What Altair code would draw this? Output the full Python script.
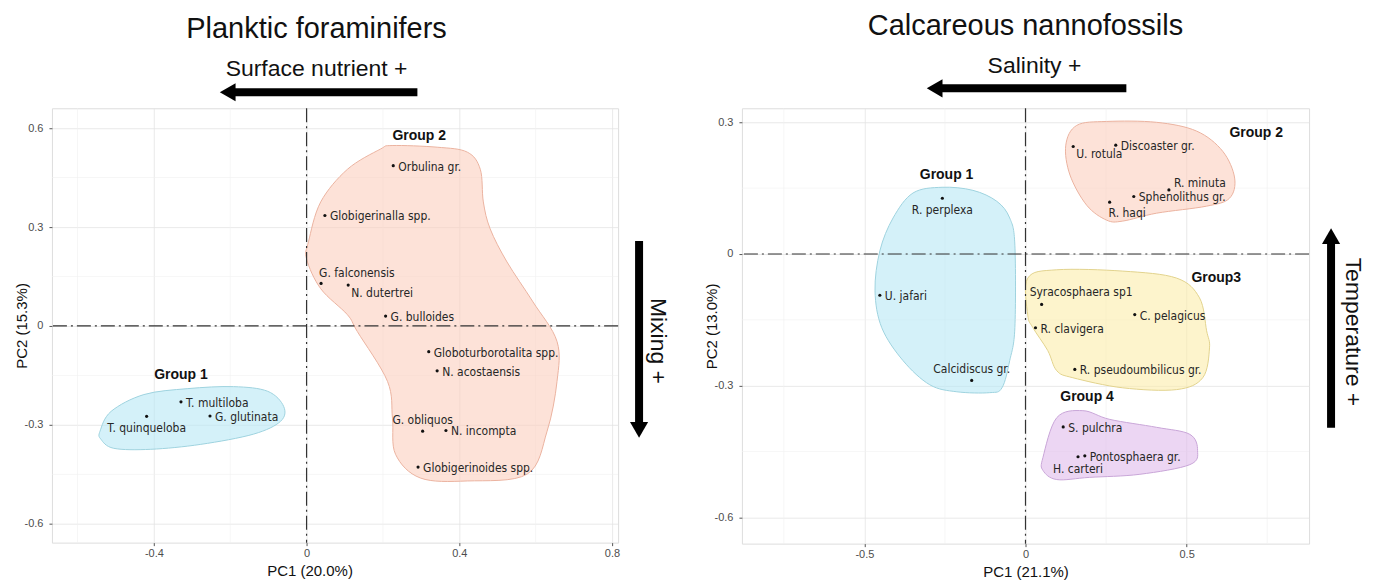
import altair as alt
import pandas as pd

# ---------------- Planktic foraminifers (left panel) ----------------
pf_names = ["Orbulina gr.", "Globigerinalla spp.", "G. falconensis", "N. dutertrei",
            "G. bulloides", "Globoturborotalita spp.", "N. acostaensis", "G. obliquos",
            "N. incompta", "Globigerinoides spp.", "T. multiloba", "G. glutinata",
            "T. quinqueloba"]
pf_pc1 = [0.227, 0.048, 0.038, 0.109, 0.207, 0.320, 0.342, 0.304, 0.365, 0.292,
          -0.329, -0.253, -0.419]
pf_pc2 = [0.486, 0.335, 0.129, 0.124, 0.030, -0.078, -0.136, -0.319, -0.317, -0.428,
          -0.230, -0.273, -0.274]
pf_side = ["r", "r", "al", "rb", "r", "r", "r", "a", "r", "r", "r", "r", "b"]

pf_group_names = ["Group 1", "Group 2"]
pf_group_pc1 = [-0.329, 0.295]
pf_group_pc2 = [-0.148, 0.575]

pf_hull1_pc1 = [-0.541, -0.512, -0.426, -0.311, -0.191, -0.102, -0.060, -0.068, -0.139,
                -0.277, -0.408, -0.505, -0.539]
pf_hull1_pc2 = [-0.319, -0.259, -0.208, -0.190, -0.184, -0.198, -0.244, -0.289, -0.328,
                -0.359, -0.374, -0.371, -0.343]
pf_hull2_pc1 = [0.224, 0.342, 0.421, 0.455, 0.463, 0.481, 0.525, 0.593, 0.656, 0.656,
                0.630, 0.578, 0.421, 0.298, 0.233, 0.225, 0.212, 0.133, 0.107, 0.037,
                0.000, 0.005, 0.037, 0.107, 0.193]
pf_hull2_pc2 = [0.547, 0.542, 0.527, 0.475, 0.376, 0.294, 0.194, 0.073, -0.047, -0.168,
                -0.319, -0.449, -0.470, -0.461, -0.389, -0.280, -0.168, -0.017, 0.034,
                0.113, 0.203, 0.255, 0.376, 0.475, 0.536]

pf_x_ticks = [-0.4, 0, 0.4, 0.8]
pf_x_minor = [-0.6, -0.2, 0.2, 0.6]
pf_y_ticks = [-0.6, -0.3, 0, 0.3, 0.6]
pf_y_minor = [-0.45, -0.15, 0.15, 0.45]

# ---------------- Calcareous nannofossils (right panel) ----------------
cn_names = ["R. perplexa", "U. jafari", "Calcidiscus gr.", "U. rotula", "Discoaster gr.",
            "R. minuta", "Sphenolithus gr.", "R. haqi", "Syracosphaera sp1", "C. pelagicus",
            "R. clavigera", "R. pseudoumbilicus gr.", "S. pulchra", "Pontosphaera gr.",
            "H. carteri"]
cn_pc1 = [-0.258, -0.452, -0.167, 0.148, 0.280, 0.445, 0.336, 0.261, 0.050, 0.339,
          0.031, 0.153, 0.117, 0.184, 0.163]
cn_pc2 = [0.127, -0.094, -0.288, 0.245, 0.248, 0.146, 0.131, 0.118, -0.115, -0.138,
          -0.168, -0.263, -0.394, -0.460, -0.462]
cn_side = ["b", "r", "a", "rb", "r", "ra", "r", "br", "all", "r", "r", "r", "r", "r", "b"]

cn_group_names = ["Group 1", "Group 2", "Group3", "Group 4"]
cn_group_pc1 = [-0.245, 0.716, 0.592, 0.191]
cn_group_pc2 = [0.180, 0.275, -0.055, -0.327]

cn_hull1_pc1 = [-0.259, -0.163, -0.089, -0.049, -0.033, -0.033, -0.049, -0.073, -0.111,
                -0.213, -0.297, -0.380, -0.446, -0.467, -0.452, -0.411, -0.349]
cn_hull1_pc2 = [0.152, 0.145, 0.120, 0.082, 0.020, -0.168, -0.243, -0.305, -0.316,
                -0.314, -0.298, -0.243, -0.168, -0.084, 0.007, 0.082, 0.139]
cn_hull2_pc1 = [0.159, 0.252, 0.407, 0.531, 0.612, 0.649, 0.633, 0.562, 0.407, 0.302,
                0.252, 0.190, 0.138, 0.125]
cn_hull2_pc2 = [0.293, 0.302, 0.300, 0.280, 0.234, 0.173, 0.127, 0.109, 0.093, 0.075,
                0.077, 0.111, 0.180, 0.248]
cn_hull3_pc1 = [0.007, 0.097, 0.302, 0.469, 0.540, 0.562, 0.571, 0.550, 0.469, 0.302,
                0.147, 0.097, 0.069, 0.023, 0.007]
cn_hull3_pc2 = [-0.055, -0.036, -0.039, -0.055, -0.100, -0.175, -0.214, -0.282, -0.309,
                -0.305, -0.282, -0.266, -0.220, -0.168, -0.139]
cn_hull4_pc1 = [0.097, 0.178, 0.262, 0.407, 0.510, 0.534, 0.510, 0.355, 0.199, 0.097,
                0.054, 0.054]
cn_hull4_pc2 = [-0.373, -0.357, -0.377, -0.395, -0.411, -0.448, -0.480, -0.502, -0.509,
                -0.514, -0.493, -0.464]

cn_x_ticks = [-0.5, 0, 0.5]
cn_x_minor = [-0.75, -0.25, 0.25, 0.75]
cn_y_ticks = [-0.6, -0.3, 0, 0.3]
cn_y_minor = [-0.45, -0.15, 0.15]

# ---------------- styling ----------------
FONT = "Liberation Sans"
LABEL_FONT = "Liberation Sans Narrow, DejaVu Sans Condensed, Liberation Sans"
BLUE = ("#b7e8f5", "#9fd3df")
PINK = ("#fccfbe", "#ebb3a0")
YELLOW = ("#fcecaa", "#e2d38e")
PURPLE = ("#dfbbeb", "#c9a6d8")

SIDES = {
    "r": dict(align="left", dx=5, dy=1),
    "rb": dict(align="left", dx=3, dy=8),
    "ra": dict(align="left", dx=5, dy=-7),
    "a": dict(align="center", dx=0, dy=-11),
    "b": dict(align="center", dx=0, dy=12),
    "al": dict(align="left", dx=-2, dy=-10),
    "all": dict(align="left", dx=-12, dy=-12),
    "br": dict(align="left", dx=-1, dy=11),
}

ONE = pd.DataFrame({"k": [0]})


def panel(names, pc1, pc2, side, gnames, gpc1, gpc2, hulls, xdom, ydom,
          xt, xm, yt, ym, xtitle, ytitle, w, h, annot, title_x=None):
    ax_common = dict(grid=True, gridColor="#e3e3e3", gridWidth=0.8, tickSize=3,
                     tickColor="#555", domain=False, labelFontSize=11,
                     labelColor="#4d4d4d", labelFont=FONT, titleFont=FONT,
                     titleFontSize=15, titleFontWeight="normal", titleColor="#111",
                     labelExpr="datum.value == 0 ? '0' : '' + datum.value")
    xaxis = dict(ax_common, values=xt, title=xtitle, labelPadding=2, titlePadding=5)
    if title_x is not None:
        xaxis["titleX"] = title_x
    X = alt.X("pc1:Q", scale=alt.Scale(domain=xdom, nice=False, zero=False),
              axis=alt.Axis(**xaxis))
    Y = alt.Y("pc2:Q", scale=alt.Scale(domain=ydom, nice=False, zero=False),
              axis=alt.Axis(values=yt, title=ytitle, labelPadding=6, titlePadding=-5,
                            **ax_common))
    layers = []
    layers.append(alt.Chart(pd.DataFrame({"pc1": xm})).mark_rule(
        color="#f0f0f0", strokeWidth=0.6).encode(x=X))
    layers.append(alt.Chart(pd.DataFrame({"pc2": ym})).mark_rule(
        color="#f0f0f0", strokeWidth=0.6).encode(y=Y))
    for hx, hy, (fill, stroke) in hulls:
        df = pd.DataFrame({"pc1": hx, "pc2": hy, "k": list(range(len(hx)))})
        layers.append(alt.Chart(df).mark_line(
            interpolate="cardinal-closed", fill=fill, fillOpacity=0.6, stroke=stroke,
            strokeWidth=1).encode(x=X, y=Y, order="k:Q"))
    layers.append(alt.Chart(pd.DataFrame({"pc1": [0]})).mark_rule(
        color="#333", strokeWidth=1.2, strokeDash=[14, 4, 2, 4]).encode(x=X))
    layers.append(alt.Chart(pd.DataFrame({"pc2": [0]})).mark_rule(
        color="#333", strokeWidth=1.2, strokeDash=[14, 4, 2, 4]).encode(y=Y))
    pts = pd.DataFrame({"pc1": pc1, "pc2": pc2, "name": names, "side": side})
    layers.append(alt.Chart(pts).mark_circle(size=10, color="#111", opacity=1)
                  .encode(x=X, y=Y))
    for key, st in SIDES.items():
        sub = pts[pts["side"] == key]
        if len(sub) == 0:
            continue
        layers.append(alt.Chart(sub).mark_text(
            baseline="middle", font=LABEL_FONT, fontSize=12, color="#262626", **st)
            .encode(x=X, y=Y, text="name:N"))
    gdf = pd.DataFrame({"pc1": gpc1, "pc2": gpc2, "name": gnames})
    layers.append(alt.Chart(gdf).mark_text(
        font=FONT, fontSize=14, fontWeight="bold", color="#111", baseline="middle")
        .encode(x=X, y=Y, text="name:N"))
    # annotations outside the plot: title, arrow texts, arrows
    (title, tx, ty), (htext, hx_, hy_), (hx0, hx1, hyy), (vtext, vx_, vy_), \
        (vx, vy0, vy1, vdir) = annot
    layers.append(alt.Chart(ONE).mark_text(
        font=FONT, fontSize=29, color="#111", align="center", baseline="alphabetic")
        .encode(x=alt.value(tx), y=alt.value(ty), text=alt.value(title)))
    layers.append(alt.Chart(ONE).mark_text(
        font=FONT, fontSize=23, color="#111", align="center", baseline="alphabetic")
        .encode(x=alt.value(hx_), y=alt.value(hy_), text=alt.value(htext)))
    layers.append(alt.Chart(ONE).mark_rule(color="black", strokeWidth=8, strokeCap="butt")
                  .encode(x=alt.value(hx0 + 4), x2=alt.value(hx1), y=alt.value(hyy)))
    layers.append(alt.Chart(ONE).mark_point(shape="triangle-left", filled=True, size=330,
                                            color="black", opacity=1)
                  .encode(x=alt.value(hx0), y=alt.value(hyy)))
    layers.append(alt.Chart(ONE).mark_text(
        font=FONT, fontSize=23, color="#111", align="center", baseline="middle", angle=90)
        .encode(x=alt.value(vx_), y=alt.value(vy_), text=alt.value(vtext)))
    if vdir == "down":
        layers.append(alt.Chart(ONE).mark_rule(color="black", strokeWidth=8, strokeCap="butt")
                      .encode(x=alt.value(vx), y=alt.value(vy0), y2=alt.value(vy1 - 4)))
        layers.append(alt.Chart(ONE).mark_point(shape="triangle-down", filled=True, size=330,
                                                color="black", opacity=1)
                      .encode(x=alt.value(vx), y=alt.value(vy1)))
    else:
        layers.append(alt.Chart(ONE).mark_rule(color="black", strokeWidth=8, strokeCap="butt")
                      .encode(x=alt.value(vx), y=alt.value(vy0 + 4), y2=alt.value(vy1)))
        layers.append(alt.Chart(ONE).mark_point(shape="triangle-up", filled=True, size=330,
                                                color="black", opacity=1)
                      .encode(x=alt.value(vx), y=alt.value(vy0)))
    return alt.layer(*layers).properties(width=w, height=h)


left = panel(pf_names, pf_pc1, pf_pc2, pf_side, pf_group_names, pf_group_pc1, pf_group_pc2,
             [(pf_hull1_pc1, pf_hull1_pc2, BLUE), (pf_hull2_pc1, pf_hull2_pc2, PINK)],
             [-0.667, 0.816], [-0.657, 0.66], pf_x_ticks, pf_x_minor, pf_y_ticks, pf_y_minor,
             "PC1 (20.0%)", "PC2 (15.3%)", 567, 435,
             [("Planktic foraminifers", 265, -70), ("Surface nutrient +", 265, -32),
              (176, 366, -16), ("Mixing +", 607, 233), (588, 133, 322, "down")],
             title_x=258)

right = panel(cn_names, cn_pc1, cn_pc2, cn_side, cn_group_names, cn_group_pc1, cn_group_pc2,
              [(cn_hull1_pc1, cn_hull1_pc2, BLUE), (cn_hull2_pc1, cn_hull2_pc2, PINK),
               (cn_hull3_pc1, cn_hull3_pc2, YELLOW), (cn_hull4_pc1, cn_hull4_pc2, PURPLE)],
              [-0.88, 0.88], [-0.66, 0.332], cn_x_ticks, cn_x_minor, cn_y_ticks, cn_y_minor,
              "PC1 (21.1%)", "PC2 (13.0%)", 568, 436,
              [("Calcareous nannofossils", 284, -73), ("Salinity +", 293, -35),
               (193, 385, -20), ("Temperature +", 612, 224), (590, 128, 320, "up")])

chart = alt.hconcat(left, right, spacing=124, bounds="flush").configure_view(
    stroke="#555", strokeWidth=1.3).configure(font=FONT).properties(
    padding={"left": 5, "top": 3, "right": 5, "bottom": 5})

chart.save("out.html", embed_options={"renderer": "svg", "actions": False})
